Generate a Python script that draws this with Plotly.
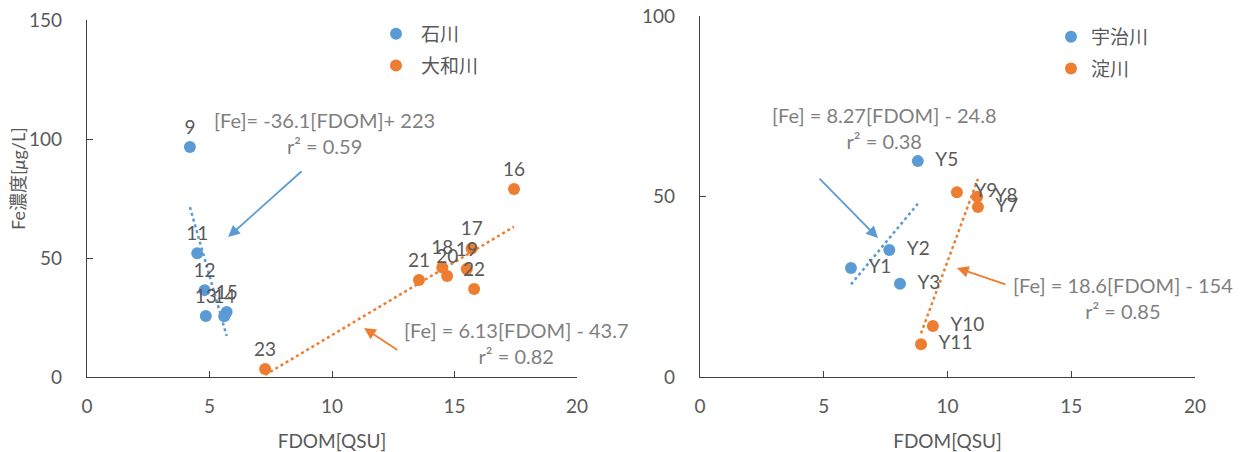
import plotly.graph_objects as go
import numpy as np

# ---- Left chart data (石川 / 大和川) ----
ishi_labels = ["9", "11", "12", "13", "14", "15"]
ishi_fdom = [4.2, 4.5, 4.8, 4.85, 5.6, 5.7]
ishi_fe = [96.6, 52.0, 36.5, 25.6, 25.5, 27.3]

yamato_labels = ["16", "17", "18", "19", "20", "21", "22", "23"]
yamato_fdom = [17.43, 15.7, 14.5, 15.5, 14.7, 13.55, 15.8, 7.27]
yamato_fe = [79.0, 54.0, 46.0, 45.4, 42.4, 40.8, 37.0, 3.4]

# ---- Right chart data (宇治川 / 淀川) ----
uji_labels = ["Y1", "Y2", "Y3", "Y5"]
uji_fdom = [6.1, 7.65, 8.08, 8.8]
uji_fe = [30.2, 35.2, 25.8, 59.8]

yodo_labels = ["Y7", "Y8", "Y9", "Y10", "Y11"]
yodo_fdom = [11.23, 11.2, 10.38, 9.41, 8.93]
yodo_fe = [47.1, 49.9, 51.2, 14.1, 9.1]

# regression coefficients (slope, intercept) as printed
fit_ishi = (-36.1, 223)
fit_yamato = (6.13, -43.7)
fit_uji = (8.27, -24.8)
fit_yodo = (18.6, -154)

eq_ishi = "[Fe]= -36.1[FDOM]+ 223<br>r² = 0.59"
eq_yamato = "[Fe] = 6.13[FDOM] - 43.7<br>r² = 0.82"
eq_uji = "[Fe] = 8.27[FDOM] - 24.8<br>r² = 0.38"
eq_yodo = "[Fe] = 18.6[FDOM] - 154<br>r² = 0.85"

BLUE = "#5B9BD5"
ORANGE = "#ED7D31"
GRAY = "#595959"
EQGRAY = "#7F7F7F"
FONT = "Lato, Noto Sans CJK JP, sans-serif"

fig = go.Figure()


def trend(xs, coef):
    x0, x1 = min(xs), max(xs)
    xx = np.array([x0, x1])
    return xx, coef[0] * xx + coef[1]


def add_series(name, xs, ys, labels, color, xa, ya, legend, pos, group, tmpl):
    fig.add_trace(go.Scatter(
        x=xs, y=ys, mode="markers+text", name=name, text=labels,
        texttemplate=tmpl,
        textposition=pos, textfont=dict(size=19, color=GRAY, family=FONT),
        marker=dict(size=12, color=color), xaxis=xa, yaxis=ya,
        legend=legend, legendgroup=group, cliponaxis=False))


def add_trend(xs, coef, color, xa, ya):
    tx, ty = trend(xs, coef)
    fig.add_trace(go.Scatter(
        x=tx, y=ty, mode="lines", line=dict(color=color, width=2.5, dash="dot"),
        showlegend=False, xaxis=xa, yaxis=ya, hoverinfo="skip"))


add_trend(ishi_fdom, fit_ishi, BLUE, "x", "y")
add_trend(yamato_fdom, fit_yamato, ORANGE, "x", "y")
add_trend(uji_fdom, fit_uji, BLUE, "x2", "y2")
add_trend(yodo_fdom, fit_yodo, ORANGE, "x2", "y2")

RT = "\u00a0\u00a0%{text}"
add_series("石川", ishi_fdom, ishi_fe, ishi_labels, BLUE, "x", "y", "legend", "top center", "a", "%{text}")
add_series("大和川", yamato_fdom, yamato_fe, yamato_labels, ORANGE, "x", "y", "legend", "top center", "b", "%{text}")
add_series("宇治川", uji_fdom, uji_fe, uji_labels, BLUE, "x2", "y2", "legend2", "middle right", "c", RT)
add_series("淀川", yodo_fdom, yodo_fe, yodo_labels, ORANGE, "x2", "y2", "legend2", "middle right", "d", RT)

W, H = 1247, 452

axis_common = dict(
    showgrid=False, zeroline=False, showline=True, linecolor="#404040", linewidth=1.3,
    ticks="inside", ticklen=6, tickcolor="#404040", automargin=False,
    tickfont=dict(size=19, color=GRAY, family=FONT),
)

fig.update_layout(
    width=W, height=H, margin=dict(l=0, r=0, t=0, b=0, autoexpand=False),
    paper_bgcolor="white", plot_bgcolor="white",
    font=dict(family=FONT, color=GRAY),
    xaxis=dict(domain=[87 / W, 577 / W], range=[0, 20], dtick=5, anchor="y",
               title=dict(text="FDOM[QSU]", font=dict(size=19, color=GRAY), standoff=20),
               ticklabelstandoff=12, **axis_common),
    yaxis=dict(domain=[1 - 377 / H, 1 - 20 / H], range=[0, 150], dtick=50, anchor="x",
               ticklabelstandoff=20, **axis_common),
    xaxis2=dict(domain=[700 / W, 1195 / W], range=[0, 20], dtick=5, anchor="y2",
                title=dict(text="FDOM[QSU]", font=dict(size=19, color=GRAY), standoff=20),
                ticklabelstandoff=12, **axis_common),
    yaxis2=dict(domain=[1 - 377 / H, 1 - 16 / H], range=[0, 100], dtick=50, anchor="x2",
                ticklabelstandoff=20, **axis_common),
    legend=dict(x=371 / W, y=1 - 15 / H, xanchor="left", yanchor="top",
                font=dict(size=19, color=GRAY, family=FONT), tracegroupgap=4,
                itemwidth=40, bgcolor="rgba(0,0,0,0)"),
    legend2=dict(x=1051 / W, y=1 - 18 / H, xanchor="left", yanchor="top",
                 font=dict(size=19, color=GRAY, family=FONT), tracegroupgap=4,
                 bgcolor="rgba(0,0,0,0)"),
)

annos = [
    # y-axis title
    dict(text="Fe濃度[<i>μ</i>g/L]", xref="paper", yref="paper", x=18 / W, y=1 - 179 / H,
         xanchor="center", yanchor="middle",
         textangle=-90, showarrow=False, font=dict(size=18, color=GRAY, family=FONT)),
    # equations
    dict(text=eq_ishi, xref="x", yref="y", x=9.71, y=102.5, showarrow=False,
         font=dict(size=20, color=EQGRAY, family=FONT)),
    dict(text=eq_yamato, xref="x", yref="y", x=17.55, y=14.3, showarrow=False,
         font=dict(size=20, color=EQGRAY, family=FONT)),
    dict(text=eq_uji, xref="x2", yref="y2", x=7.47, y=69, showarrow=False,
         font=dict(size=20, color=EQGRAY, family=FONT)),
    dict(text=eq_yodo, xref="x2", yref="y2", x=17.1, y=21.9, showarrow=False,
         font=dict(size=20, color=EQGRAY, family=FONT)),
    # arrows
    dict(text="", xref="x", yref="y", x=5.76, y=58.8, axref="x", ayref="y", ax=8.82, ay=87.0,
         showarrow=True, arrowhead=2, arrowsize=1.3, arrowwidth=1.8, arrowcolor=BLUE),
    dict(text="", xref="x", yref="y", x=11.31, y=20.6, axref="x", ayref="y", ax=12.73, ay=10.9,
         showarrow=True, arrowhead=2, arrowsize=1.3, arrowwidth=1.8, arrowcolor=ORANGE),
    dict(text="", xref="x2", yref="y2", x=7.19, y=38.5, axref="x2", ayref="y2", ax=4.77, ay=55.4,
         showarrow=True, arrowhead=2, arrowsize=1.3, arrowwidth=1.8, arrowcolor=BLUE),
    dict(text="", xref="x2", yref="y2", x=10.38, y=30.2, axref="x2", ayref="y2", ax=12.4, ay=25.5,
         showarrow=True, arrowhead=2, arrowsize=1.3, arrowwidth=1.8, arrowcolor=ORANGE),
]
fig.update_layout(annotations=annos)

fig.write_html("out.html")
